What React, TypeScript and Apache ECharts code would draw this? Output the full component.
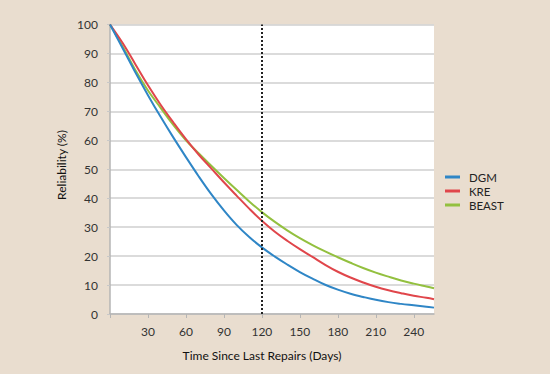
import React, { useEffect, useRef } from "react";
import * as echarts from "echarts";

const days = [0, 10, 20, 30, 40, 50, 60, 70, 80, 90, 100, 110, 120, 130, 140, 150, 160, 170, 180, 190, 200, 210, 220, 230, 240, 250, 256];
const dgm = [100, 91.8, 83.5, 75.6, 68.1, 61, 54.2, 47.6, 41.4, 35.8, 30.8, 26.6, 23, 19.9, 17.1, 14.5, 12.2, 10.1, 8.4, 7.0, 5.9, 4.9, 4.1, 3.5, 3.0, 2.5, 2.2];
const kre = [100, 93.6, 86.3, 79, 72.3, 66.2, 60.4, 55.1, 50.3, 45.5, 40.9, 36.4, 32.2, 28.5, 25.3, 22.4, 19.7, 17.0, 14.6, 12.6, 10.9, 9.4, 8.2, 7.2, 6.3, 5.6, 5.1];
const beast = [100, 92.4, 84.3, 77.2, 71.2, 65.3, 60, 55.5, 51.2, 47, 42.9, 38.9, 35.2, 31.9, 28.9, 26.2, 23.8, 21.6, 19.6, 17.7, 15.9, 14.3, 12.9, 11.6, 10.5, 9.5, 8.9];
const seriesNames = ["DGM", "KRE", "BEAST"];
const seriesColors = ["#2f86c6", "#e0464b", "#93c03f"];
const xTickLabels = [30, 60, 90, 120, 150, 180, 210, 240];
const xTicks = [0, 30, 60, 90, 120, 150, 180, 210, 240];
const markerDay = 120;
const xTitle = "Time Since Last Repairs (Days)";
const yTitle = "Reliability (%)";

const FONT = "Lato, 'Open Sans', sans-serif";

export default function App() {
  const ref = useRef<HTMLDivElement>(null);
  useEffect(() => {
    if (!ref.current) return;
    const chart = echarts.init(ref.current, null, { renderer: "svg" });
    const values = [dgm, kre, beast];
    chart.setOption({
      animation: false,
      backgroundColor: "#e9ddcf",
      textStyle: { fontFamily: FONT },
      grid: {
        left: 110,
        right: 116,
        top: 24.5,
        bottom: 60,
        show: true,
        backgroundColor: "#ffffff",
        borderWidth: 0,
      },
      legend: {
        orient: "vertical",
        left: 440,
        top: 165,
        itemWidth: 15,
        itemHeight: 3,
        itemGap: 0,
        icon: "rect",
        textStyle: { fontSize: 11.5, color: "#222", fontFamily: FONT, lineHeight: 14, padding: [0, 0, 0, 4] },
        data: seriesNames,
      },
      xAxis: {
        type: "value",
        min: 0,
        max: 256,
        interval: 30,
        axisLine: { show: true, lineStyle: { color: "#b5b5b5", width: 1.5 } },
        axisTick: { show: true, length: 4, lineStyle: { color: "#b5b5b5" }, customValues: xTicks },
        axisLabel: { customValues: xTickLabels, fontSize: 12, color: "#333", margin: 11, fontFamily: FONT },
        splitLine: { show: false },
      },
      yAxis: {
        type: "value",
        min: 0,
        max: 100,
        interval: 10,
        axisLine: { show: true, lineStyle: { color: "#b5b5b5", width: 1.5 } },
        axisTick: { show: true, length: 3, lineStyle: { color: "#c8c8c8" } },
        axisLabel: { fontSize: 12, color: "#333", margin: 12, fontFamily: FONT },
        splitLine: { show: true, lineStyle: { color: "#cfcfcf", width: 1.5 } },
      },
      graphic: [
        {
          type: "text",
          x: 262,
          y: 355,
          style: { text: xTitle, fontSize: 12, fill: "#111", fontFamily: FONT, align: "center", verticalAlign: "middle" },
        },
        {
          type: "text",
          x: 61,
          y: 165,
          rotation: Math.PI / 2,
          style: { text: yTitle, fontSize: 12, fill: "#111", fontFamily: FONT, align: "center", verticalAlign: "middle" },
        },
      ],
      series: seriesNames.map((name, i) => ({
        name,
        type: "line",
        data: days.map((d, j) => [d, values[i][j]]),
        smooth: 0.4,
        showSymbol: false,
        symbol: "none",
        lineStyle: { color: seriesColors[i], width: 2 },
        itemStyle: { color: seriesColors[i] },
        z: 3 - i,
        markLine:
          i === 0
            ? {
                silent: true,
                symbol: ["none", "none"],
                label: { show: false },
                lineStyle: { color: "#222", type: [2, 2], width: 2 },
                data: [{ xAxis: markerDay }],
              }
            : undefined,
      })),
    });
    return () => chart.dispose();
  }, []);
  return <div ref={ref} style={{ position: "fixed", left: 0, top: 0, width: 550, height: 374 }} />;
}
